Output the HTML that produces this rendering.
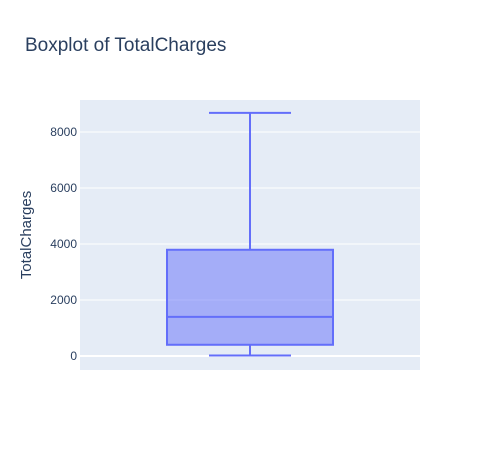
<!DOCTYPE html>
<html><head><meta charset="utf-8"><style>
body{margin:0;background:#fff;font-family:"Liberation Sans",sans-serif}
</style></head><body>
<svg width="500" height="450" xmlns="http://www.w3.org/2000/svg">
<text x="25" y="51" font-size="19" fill="#2a3f5f" font-family="Liberation Sans, sans-serif">Boxplot of TotalCharges</text>
<rect x="80" y="100" width="340" height="270" fill="#e5ecf6"/>
<g id="grid"></g>
<g id="box"></g>
<text transform="translate(31,235) rotate(-90)" text-anchor="middle" font-size="15" fill="#2a3f5f" font-family="Liberation Sans, sans-serif">TotalCharges</text>
</svg>
<script>
const ticks=[0,2000,4000,6000,8000];
const tickLabels=["0","2000","4000","6000","8000"];
const stats={min:18.8,q1:401,median:1397,q3:3794,max:8684};
const y=v=>356-v*0.028;
const ns="http://www.w3.org/2000/svg";
function mk(t,a,p){const e=document.createElementNS(ns,t);for(const k in a)e.setAttribute(k,a[k]);p.appendChild(e);return e;}
const g=document.getElementById('grid');
ticks.forEach((t,i)=>{
 const l=mk('line',{x1:80,x2:420,y1:y(t),y2:y(t),stroke:'#fff','stroke-width':t===0?2:1},g);
 
 
 const tx=mk('text',{x:77,y:y(t)+4,'text-anchor':'end','font-size':12,fill:'#2a3f5f','font-family':'Liberation Sans, sans-serif'},g);
 tx.textContent=tickLabels[i];
 
 
});
const b=document.getElementById('box');
const c='#636efa';
const w1=mk('line',{x1:250,x2:250,y1:y(stats.q3),y2:y(stats.max),stroke:c,'stroke-width':2},b);

const w2=mk('line',{x1:250,x2:250,y1:y(stats.q1),y2:y(stats.min),stroke:c,'stroke-width':2},b);

const r=mk('rect',{x:167,width:166,y:y(stats.q3),height:y(stats.q1)-y(stats.q3),fill:'rgba(99,110,250,0.5)',stroke:c,'stroke-width':2},b);

const m=mk('line',{x1:167,x2:333,y1:y(stats.median),y2:y(stats.median),stroke:c,'stroke-width':2},b);

const c1=mk('line',{x1:209,x2:291,y1:y(stats.max),y2:y(stats.max),stroke:c,'stroke-width':2},b);

const c2=mk('line',{x1:209,x2:291,y1:y(stats.min),y2:y(stats.min),stroke:c,'stroke-width':2},b);

</script>
</body></html>
